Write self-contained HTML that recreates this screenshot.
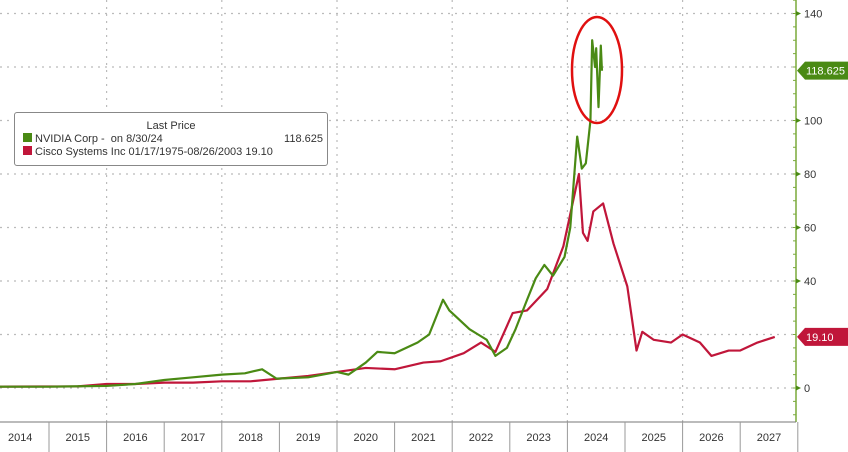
<!DOCTYPE html>
<html><head><meta charset="utf-8"><style>
body{margin:0;background:#fff;font-family:"Liberation Sans",sans-serif}
svg{display:block}
</style></head><body>
<svg id="chart" width="848" height="452">
<g id="grid"></g><g id="series"></g><g id="axes"></g>
</svg>
<script>
const xYears=[2014,2015,2016,2017,2018,2019,2020,2021,2022,2023,2024,2025,2026,2027];
const yTicks=[0,20,40,60,80,100,120,140];
const yTickLabels=["0","","40","60","80","100","","140"];
const nvdaT=[2014.0,2015.0,2016.0,2016.5,2017.0,2017.5,2018.0,2018.4,2018.7,2018.95,2019.5,2020.0,2020.2,2020.5,2020.7,2021.0,2021.4,2021.6,2021.84,2021.95,2022.1,2022.3,2022.45,2022.6,2022.75,2022.95,2023.1,2023.3,2023.45,2023.6,2023.75,2023.95,2024.05,2024.17,2024.25,2024.32,2024.4,2024.43,2024.48,2024.5,2024.54,2024.58,2024.6];
const nvdaV=[0.5,0.5,0.8,1.5,3.0,4.0,5.0,5.5,7.0,3.5,4.0,6.0,5.0,9.5,13.5,13,17,20,33,29,26,22,20,18,12,15,22,33,41,46,42,49,60,94,82,84,100,130,120,127,105,128,118.6];
const cscoT=[2014.0,2015.5,2016.0,2016.5,2017.0,2017.5,2018.0,2018.5,2019.0,2019.5,2020.0,2020.5,2021.0,2021.5,2021.8,2022.2,2022.5,2022.75,2023.05,2023.3,2023.65,2023.93,2024.1,2024.2,2024.27,2024.35,2024.45,2024.62,2024.8,2025.04,2025.2,2025.3,2025.5,2025.8,2026.0,2026.3,2026.5,2026.8,2027.0,2027.3,2027.6];
const cscoV=[0.5,0.6,1.5,1.5,2.0,2.0,2.5,2.5,3.5,4.5,6.0,7.5,7.0,9.5,10,13,17,13.5,28,29,37,53,70,80,58,55,66,69,54,38,14,21,18,17,20,17,12,14,14,17,19.1];
const X=t=>49+(t-2015)*57.6, Y=v=>388-v*2.675;
const NS="http://www.w3.org/2000/svg";
function mk(tag,parent,attrs){const e=document.createElementNS(NS,tag);for(const k in attrs)e.setAttribute(k,attrs[k]);parent.appendChild(e);return e;}
const grid=document.getElementById('grid'),ser=document.getElementById('series'),ax=document.getElementById('axes');
yTicks.forEach(v=>{const l=mk('line',grid,{x1:0,x2:795,y1:Y(v),y2:Y(v),stroke:'#bbb','stroke-dasharray':'2,5','stroke-width':1.2});

});
xYears.forEach((yr,i)=>{if(i%2==0&&i>0){const l=mk('line',grid,{x1:X(yr),x2:X(yr),y1:0,y2:422,stroke:'#bbb','stroke-dasharray':'2,5','stroke-width':1.2});

}});
function line(T,V,c,name){const p=mk('polyline',ser,{points:T.map((t,i)=>X(t)+','+Y(V[i])).join(' '),fill:'none',stroke:c,'stroke-width':2.2,'stroke-linejoin':'round'});

}
line(cscoT,cscoV,'#c0163a','cisco-line');
line(nvdaT,nvdaV,'#4a8a14','nvidia-line');
const el=mk('ellipse',ser,{cx:597,cy:70,rx:25,ry:53,fill:'none',stroke:'#e01010','stroke-width':2.5});


// axes
const ya=mk('line',ax,{x1:796,x2:796,y1:0,y2:422,stroke:'#7aaa3a','stroke-width':1.5});


for(let v=-10;v<=145;v+=5){mk('line',ax,{x1:793,x2:796,y1:Y(v),y2:Y(v),stroke:'#7aaa3a'});}
yTicks.forEach((v,i)=>{if(!yTickLabels[i])return;mk('path',ax,{d:`M796 ${Y(v)-2.5}L801 ${Y(v)}L796 ${Y(v)+2.5}Z`,fill:'#4a8a14'});
const t=mk('text',ax,{x:804,y:Y(v)+4,'font-size':11,fill:'#333'});t.textContent=yTickLabels[i];

});
const xa=mk('line',ax,{x1:0,x2:796,y1:422,y2:422,stroke:'#777','stroke-width':1});


xYears.forEach(yr=>{mk('line',ax,{x1:X(yr+1),x2:X(yr+1),y1:422,y2:452,stroke:'#999'});
const t=mk('text',ax,{x:X(yr)+28.8,y:441,'font-size':11,fill:'#333','text-anchor':'middle'});t.textContent=yr;

});
function tag(v,txt,c,name){const y=Y(v);const g=mk('g',ax,{});


mk('path',g,{d:`M797 ${y}L805 ${y-9}L848 ${y-9}L848 ${y+9}L805 ${y+9}Z`,fill:c});
const t=mk('text',g,{x:806,y:y+4,'font-size':11,fill:'#fff'});t.textContent=txt;}
tag(118.625,'118.625','#4a8a14','nvidia-price-tag');
tag(19.1,'19.10','#c0163a','cisco-price-tag');
</script>
<div style="position:absolute;left:14px;top:112px;width:314px;height:54px;border:1px solid #888;border-radius:3px;background:#fff;font-size:11px;color:#333;box-sizing:border-box">
<div style="position:absolute;left:0;right:0;top:7px;text-align:center">Last Price</div>
<div style="position:absolute;left:8px;top:20px;width:300px"><span style="display:inline-block;width:9px;height:9px;background:#4a8a14;margin-right:3px"></span>NVIDIA Corp -&nbsp; on 8/30/24<span style="position:absolute;right:0">118.625</span></div>
<div style="position:absolute;left:8px;top:33px;width:300px"><span style="display:inline-block;width:9px;height:9px;background:#c0163a;margin-right:3px"></span>Cisco Systems Inc 01/17/1975-08/26/2003&nbsp;19.10</div>
</div>
</body></html>
